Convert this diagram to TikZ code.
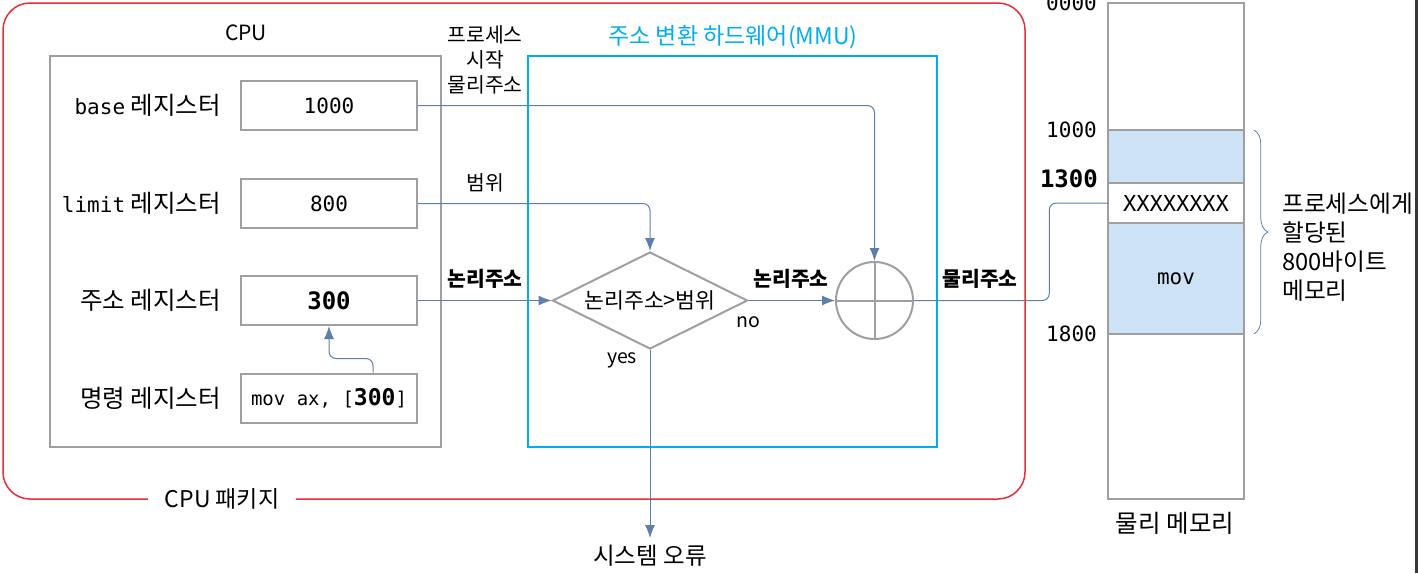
\documentclass[tikz,border=0pt]{standalone}
\usepackage{fontspec}
\setmainfont{Noto Sans CJK KR}
\setmonofont{DejaVu Sans Mono}
\usepackage{tikz}
\usetikzlibrary{arrows.meta, positioning, shapes.geometric, decorations.pathreplacing}
\definecolor{pkgred}{RGB}{232,45,55}
\definecolor{mmublue}{RGB}{0,174,239}
\definecolor{boxgray}{RGB}{158,158,163}
\definecolor{flowblue}{RGB}{92,128,170}
\definecolor{memfill}{RGB}{205,226,245}
\newcommand{\regtt}[1]{{\fontsize{21}{25}\ttfamily #1}}
\tikzset{
  gbox/.style  = {draw=boxgray, line width=2pt, inner sep=0pt},
  reg/.style   = {gbox, minimum width=176pt, minimum height=49pt,
                  font=\fontsize{21}{25}\ttfamily},
  rlbl/.style  = {anchor=east, inner sep=0pt, font=\fontsize{24.5}{28}\selectfont},
  tag/.style   = {font=\fontsize{20.4}{25}\selectfont, inner sep=0pt, align=center},
  btag/.style  = {tag, font=\fontsize{20.4}{25}\selectfont\bfseries},
  yn/.style    = {inner sep=0pt, font=\fontsize{19.5}{22}\selectfont},
  flow/.style  = {-{Latex[length=13pt, width=10pt]}, flowblue, line width=1pt,
                  rounded corners=7pt},
  wire/.style  = {flowblue, line width=1pt, rounded corners=7pt},
  cell/.style  = {gbox, minimum width=135.5pt, outer sep=0pt,
                  font=\fontsize{21}{25}\ttfamily},
  addr/.style  = {anchor=east, inner sep=0pt, font=\fontsize{21}{25}\ttfamily},
}

\begin{document}
\begin{tikzpicture}[x=1pt, y=-1pt, font=\fontsize{21}{25}\selectfont]
  \useasboundingbox (0,0) rectangle (1418,573);
  \node[draw=pkgred, line width=1.5pt, rounded corners=27pt, inner sep=0pt,
        minimum width=1022pt, minimum height=496pt] (pkg) at (514,251) {};
  \node[fill=white, inner xsep=17pt, inner ysep=2pt, font=\fontsize{23}{26}\selectfont]
    (pkglbl) at (222,499) {CPU 패키지};

  \node[gbox, minimum width=391pt, minimum height=391pt] (cpu) at (245.5,251.5) {};
  \node (cpulbl) at (246,33) {CPU};
  \node[draw=mmublue, line width=2pt, inner sep=0pt,
        minimum width=409pt, minimum height=391pt] (mmu) at (732.5,251.5) {};
  \node[text=mmublue, font=\fontsize{23}{26}\selectfont] (mmulbl) at (733,37)
    {주소 변환 하드웨어(MMU)};

  \node[reg] (base)  at (329,105.5) {1000};
  \node[reg] (limit) at (329,203.5) {800};
  \node[reg, font=\fontsize{24}{26}\ttfamily\bfseries] (addr) at (329,300.5) {300};
  \node[reg, font=\fontsize{19}{25}\ttfamily] (instr) at (329,398)
    {mov ax, [\textbf{\fontsize{23}{25}\selectfont 300}]};

  \node[rlbl] (baselbl)  at (221,105) {\regtt{base} 레지스터};
  \node[rlbl] (limitlbl) at (221,203) {\regtt{limit} 레지스터};
  \node[rlbl] (addrlbl)  at (221,300) {주소 레지스터};
  \node[rlbl] (instrlbl) at (221,398) {명령 레지스터};

  \node[diamond, draw=boxgray, line width=2pt, aspect=2, inner sep=0pt,
        minimum width=195pt, minimum height=97pt,
        font=\fontsize{21.6}{24}\selectfont] (cmp) at (650,300.5) {논리주소>범위};
  \node[circle, draw=boxgray, line width=2pt, minimum size=77pt, inner sep=0pt]
    (adder) at (874.5,300.5) {};
  \draw[boxgray, line width=2pt] (adder.north) -- (adder.south) (adder.west) -- (adder.east);

  \node[cell, minimum height=127pt, anchor=north] (m0) at (1176,3) {};
  \node[cell, minimum height=53pt, fill=memfill, below=0pt of m0] (m1) {};
  \node[cell, minimum height=40pt, below=0pt of m1, font=\fontsize{22}{25}\ttfamily]
    (m2) {XXXXXXXX};
  \node[cell, minimum height=111pt, fill=memfill, below=0pt of m2] (m3) {mov};
  \node[cell, minimum height=165pt, below=0pt of m3] (m4) {};

  \node[addr] (a0) at (1097,3)   {0000};
  \node[addr] (a1) at (1097,130) {1000};
  \node[addr, font=\fontsize{24}{26}\ttfamily\bfseries] (a2) at (1098,179) {1300};
  \node[addr] (a3) at (1097,334) {1800};
  \node[font=\fontsize{24.5}{28}\selectfont] (memlbl) at (1175,523) {물리 메모리};
  \draw[flowblue, line width=0.8pt, decorate, decoration={brace, amplitude=14pt}]
    ([xshift=10pt]m1.north east) -- ([xshift=10pt]m3.south east);
  \node[anchor=west, align=left, inner sep=0pt, font=\fontsize{23.7}{29}\selectfont]
    (alloc) at (1282,247) {프로세스에게\\할당된\\800바이트\\메모리};

  \node[tag] (basetag)  at (485,60)  {프로세스\\시작\\물리주소};
  \node[tag] (limittag) at (485,183) {범위};
  \node[btag] (addrtag) at (485,279) {논리주소};
  \node[btag] (offtag)  at (791,279) {논리주소};
  \node[btag] (phystag) at (980,279) {물리주소};
  \node[yn] (notag)  at (748,322) {no};
  \node[yn] (yestag) at (622,360) {yes};
  \node[anchor=north, inner ysep=7pt, font=\fontsize{23.5}{27}\selectfont]
    (err) at (650,538) {시스템 오류};

  \draw[flow] (base.east) -| (adder.north);
  \draw[flow] (limit.east) -| (cmp.north);
  \draw[flow] (addr.east) -- (cmp.west);
  \draw[flow] (cmp.east) -- (adder.west);
  \draw[flow] (cmp.south) -- (err.north);
  \draw[flow] ([xshift=44pt]instr.north) -- ++(0,-14) -| (addr.south);
  \draw[wire] (adder.east) -| ([xshift=-59pt]m2.west) -- (m2.west);

  \fill[black!78] (1415,0) rectangle (1418,573);
\end{tikzpicture}
\end{document}
